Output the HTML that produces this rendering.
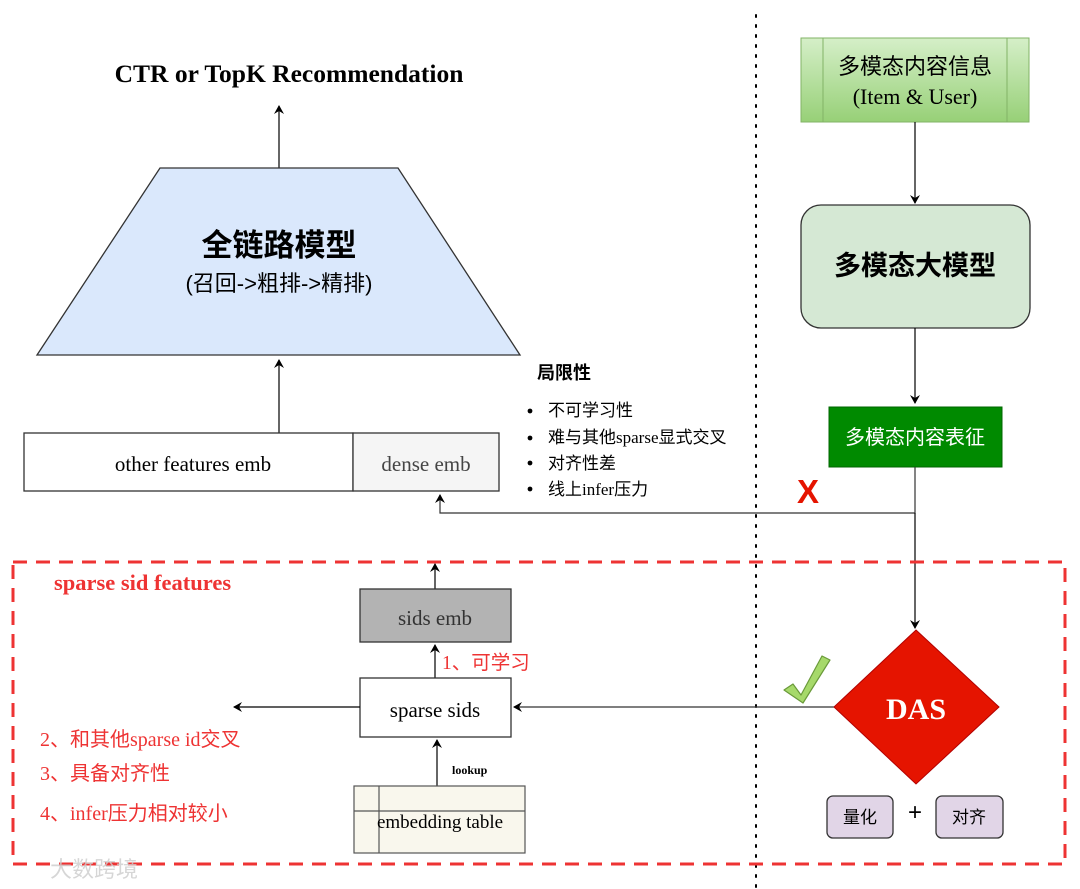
<!DOCTYPE html>
<html><head><meta charset="utf-8"><style>
html,body{margin:0;padding:0;background:#fff;}
svg{display:block}
.s{font-family:"Liberation Serif","Noto Sans CJK SC",serif}
.c{font-family:"Liberation Sans","Noto Sans CJK SC",sans-serif}
</style></head><body>
<svg width="1080" height="889" viewBox="0 0 1080 889" xmlns="http://www.w3.org/2000/svg">
<defs>
<marker id="a" markerWidth="10" markerHeight="10" refX="8" refY="5" orient="auto" markerUnits="userSpaceOnUse">
<path d="M0,0 L9,5 L0,10 L3,5 Z" fill="#000"/></marker>
<linearGradient id="g1" x1="0" y1="0" x2="0" y2="1"><stop offset="0" stop-color="#d5efc8"/><stop offset="1" stop-color="#97d077"/></linearGradient>
</defs>
<text x="289" y="82" text-anchor="middle" class="s" font-size="25.5" font-weight="bold">CTR or TopK Recommendation</text>
<line x1="279" y1="168" x2="279" y2="106" stroke="#000" stroke-width="1.2" marker-end="url(#a)"/>
<polygon points="160,168 398,168 520,355 37,355" fill="#dae8fc" stroke="#333" stroke-width="1.3"/>
<text x="279" y="256" text-anchor="middle" class="c" font-size="31" font-weight="bold">全链路模型</text>
<text x="279" y="291" text-anchor="middle" class="c" font-size="22">(召回-&gt;粗排-&gt;精排)</text>
<line x1="279" y1="433" x2="279" y2="360" stroke="#000" stroke-width="1.2" marker-end="url(#a)"/>
<rect x="24" y="433" width="329" height="58" fill="#fff" stroke="#333" stroke-width="1.3"/>
<rect x="353" y="433" width="146" height="58" fill="#f5f5f5" stroke="#333" stroke-width="1.3"/>
<text x="193" y="471" text-anchor="middle" class="s" font-size="21">other features emb</text>
<text x="426" y="471" text-anchor="middle" class="s" font-size="21" fill="#444">dense emb</text>
<text x="537" y="379" class="c" font-size="18" font-weight="bold">局限性</text>
<g class="s" font-size="17">
<circle cx="530" cy="411" r="2.4"/><text x="548" y="416">不可学习性</text>
<circle cx="530" cy="438" r="2.4"/><text x="548" y="443">难与其他sparse显式交叉</text>
<circle cx="530" cy="463" r="2.4"/><text x="548" y="469">对齐性差</text>
<circle cx="530" cy="489" r="2.4"/><text x="548" y="495">线上infer压力</text>
</g>
<line x1="756" y1="15" x2="756" y2="889" stroke="#000" stroke-width="2" stroke-dasharray="2,8" stroke-linecap="round"/>
<rect x="801" y="38" width="228" height="84" fill="url(#g1)" stroke="#82b366"/>
<line x1="823" y1="38" x2="823" y2="122" stroke="#82b366"/>
<line x1="1007" y1="38" x2="1007" y2="122" stroke="#82b366"/>
<text x="915" y="74" text-anchor="middle" class="s" font-size="22">多模态内容信息</text>
<text x="915" y="104" text-anchor="middle" class="s" font-size="22">(Item &amp; User)</text>
<line x1="915" y1="122" x2="915" y2="203" stroke="#000" stroke-width="1.2" marker-end="url(#a)"/>
<rect x="801" y="205" width="229" height="123" rx="20" fill="#d5e8d4" stroke="#333" stroke-width="1.3"/>
<text x="915" y="275" text-anchor="middle" class="c" font-size="27" font-weight="bold">多模态大模型</text>
<line x1="915" y1="328" x2="915" y2="403" stroke="#000" stroke-width="1.2" marker-end="url(#a)"/>
<rect x="829" y="407" width="173" height="60" fill="#008a00" stroke="#006600"/>
<text x="915" y="444" text-anchor="middle" class="c" font-size="20" fill="#fff">多模态内容表征</text>
<polyline points="915,467 915,513 440,513 440,495" fill="none" stroke="#333" stroke-width="1.2" marker-end="url(#a)"/>
<text x="808" y="503" text-anchor="middle" class="c" font-size="33" font-weight="bold" fill="#e51400">X</text>
<line x1="915" y1="513" x2="915" y2="628" stroke="#000" stroke-width="1.2" marker-end="url(#a)"/>
<rect x="13" y="562" width="1052" height="302" fill="none" stroke="#ee3333" stroke-width="3" stroke-dasharray="14,9"/>
<text x="54" y="590" class="s" font-size="22.5" font-weight="bold" fill="#ee3333">sparse sid features</text>
<line x1="435" y1="589" x2="435" y2="564" stroke="#000" stroke-width="1.2" marker-end="url(#a)"/>
<rect x="360" y="589" width="151" height="53" fill="#b3b3b3" stroke="#333" stroke-width="1.3"/>
<text x="435" y="625" text-anchor="middle" class="s" font-size="21" fill="#333">sids emb</text>
<line x1="435" y1="678" x2="435" y2="645" stroke="#000" stroke-width="1.2" marker-end="url(#a)"/>
<text x="442" y="669" class="s" font-size="19.5" fill="#ee3333">1、可学习</text>
<rect x="360" y="678" width="151" height="59" fill="#fff" stroke="#333" stroke-width="1.3"/>
<text x="435" y="717" text-anchor="middle" class="s" font-size="21">sparse sids</text>
<line x1="360" y1="707" x2="234" y2="707" stroke="#000" stroke-width="1.2" marker-end="url(#a)"/>
<line x1="835" y1="707" x2="514" y2="707" stroke="#333" stroke-width="1.2" marker-end="url(#a)"/>
<line x1="437" y1="786" x2="437" y2="740" stroke="#000" stroke-width="1.2" marker-end="url(#a)"/>
<text x="452" y="774" class="s" font-size="12" font-weight="bold">lookup</text>
<rect x="354" y="786" width="171" height="67" fill="#f9f7ed" stroke="#555" stroke-width="1.2"/>
<line x1="379" y1="786" x2="379" y2="853" stroke="#555" stroke-width="1.2"/>
<line x1="354" y1="811" x2="525" y2="811" stroke="#555" stroke-width="1.2"/>
<text x="440" y="828" text-anchor="middle" class="s" font-size="19">embedding table</text>
<g class="s" font-size="20" fill="#ee3333">
<text x="40" y="746">2、和其他sparse id交叉</text>
<text x="40" y="780">3、具备对齐性</text>
<text x="40" y="820">4、infer压力相对较小</text>
</g>
<polygon points="916,630 999,707 916,784 834,707" fill="#e51400" stroke="#b20000"/>
<text x="916" y="719" text-anchor="middle" class="s" font-size="30" font-weight="bold" fill="#fff">DAS</text>
<path d="M784,690 L793,684 L801,695 L822,656 L830,660 L803,703 Z" fill="#a6d96a" stroke="#6a9a3a" stroke-width="1.2" stroke-linejoin="round"/>
<rect x="827" y="796" width="66" height="42" rx="6" fill="#e1d5e7" stroke="#333" stroke-width="1.3"/>
<text x="860" y="823" text-anchor="middle" class="c" font-size="17">量化</text>
<text x="915" y="820" text-anchor="middle" class="c" font-size="24">+</text>
<rect x="936" y="796" width="67" height="42" rx="6" fill="#e1d5e7" stroke="#333" stroke-width="1.3"/>
<text x="969" y="823" text-anchor="middle" class="c" font-size="17">对齐</text>
<text x="50" y="877" class="c" font-size="22" fill="#ccc" opacity="0.8">大数跨境</text>
</svg>
</body></html>
